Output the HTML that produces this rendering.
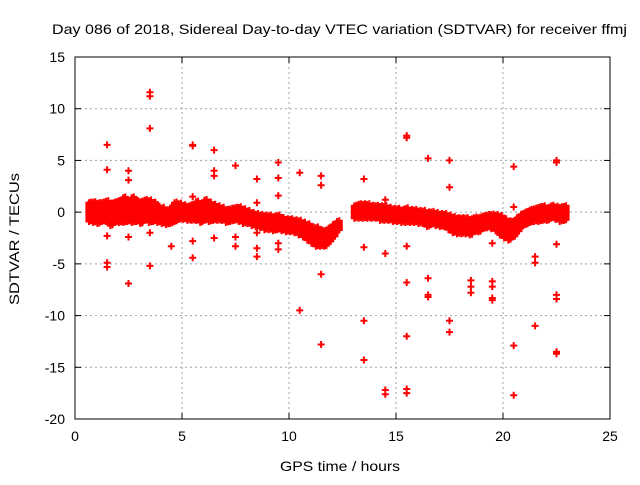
<!DOCTYPE html>
<html><head><meta charset="utf-8"><style>
body{margin:0;background:#fff}
text{font-family:"Liberation Sans",sans-serif;font-size:14px;fill:#000}
</style></head><body>
<svg id="chart" width="640" height="480" xmlns="http://www.w3.org/2000/svg">
<text x="52" y="34" textLength="575" lengthAdjust="spacingAndGlyphs">Day 086 of 2018, Sidereal Day-to-day VTEC variation (SDTVAR) for receiver ffmj</text>
<g id="grid"></g>
<g id="axes"></g>
<g id="marks"></g>
<text x="280" y="471" textLength="120" lengthAdjust="spacingAndGlyphs">GPS time / hours</text>
<text transform="translate(19,305) rotate(-90)" textLength="132" lengthAdjust="spacingAndGlyphs">SDTVAR / TECUs</text>
</svg>
<script>
const xTicks=[0,5,10,15,20,25];
const yTicks=[15,10,5,0,-5,-10,-15,-20];
// dense band: time, mid value, half-spread
const bandT=[0.7,0.9,1.1,1.3,1.5,1.7,1.9,2.1,2.3,2.5,2.7,2.9,3.1,3.3,3.5,3.7,3.9,4.1,4.3,4.5,4.7,4.9,5.1,5.3,5.5,5.7,5.9,6.1,6.3,6.5,6.7,6.9,7.1,7.3,7.5,7.7,7.9,8.1,8.3,8.5,8.7,8.9,9.1,9.3,9.5,9.7,9.9,10.1,10.3,10.5,10.7,10.9,11.1,11.3,11.5,11.7,11.9,12.1,12.3,13.1,13.3,13.5,13.7,13.9,14.1,14.3,14.5,14.7,14.9,15.1,15.3,15.5,15.7,15.9,16.1,16.3,16.5,16.7,16.9,17.1,17.3,17.5,17.7,17.9,18.1,18.3,18.5,18.7,18.9,19.1,19.3,19.5,19.7,19.9,20.1,20.3,20.5,20.7,20.9,21.1,21.3,21.5,21.7,21.9,22.1,22.3,22.5,22.7,22.9];
const bandMid=[0,0,-0.1,0,0.1,-0.2,0,0.1,0.2,0.1,0.2,0.1,0,0.2,0.1,0,-0.2,-0.3,-0.5,-0.3,0,0.1,0,-0.1,0,0.1,-0.2,0.2,0,0,-0.1,-0.2,-0.4,-0.3,-0.2,-0.2,-0.4,-0.5,-0.7,-0.8,-0.9,-1,-1,-1.1,-1,-1.2,-1.3,-1.3,-1.4,-1.5,-1.7,-1.9,-2.2,-2.4,-2.5,-2.5,-2.2,-1.8,-1.3,0,0.1,0.1,0.1,0,0,-0.1,-0.1,-0.2,-0.3,-0.3,-0.4,-0.3,-0.4,-0.4,-0.5,-0.5,-0.7,-0.6,-0.7,-0.8,-0.8,-1,-1.2,-1.3,-1.3,-1.3,-1.4,-1.2,-1.2,-1,-0.9,-0.9,-1,-1.3,-1.6,-1.8,-1.6,-1.2,-0.8,-0.6,-0.4,-0.3,-0.2,-0.1,-0.2,0,-0.1,-0.2,-0.1,-0.3,-0.2];
const bandSpread=[0.9,1,1,0.9,1,1.1,1,1.1,1.2,1,1.2,1,1.1,1,1.1,0.9,0.8,0.8,0.7,0.8,0.9,0.8,0.7,0.7,0.8,0.9,0.8,1,0.9,0.8,0.7,0.6,0.6,0.6,0.6,0.7,0.7,0.6,0.6,0.6,0.6,0.7,0.7,0.7,0.7,0.6,0.6,0.6,0.6,0.7,0.7,0.8,0.8,0.9,0.8,0.8,0.7,0.6,0.5,0.6,0.7,0.7,0.7,0.6,0.6,0.7,0.7,0.6,0.6,0.6,0.6,0.7,0.6,0.6,0.6,0.6,0.7,0.6,0.6,0.6,0.6,0.7,0.8,0.8,0.8,0.8,0.8,0.7,0.7,0.6,0.6,0.7,0.8,0.9,0.9,0.9,0.8,0.7,0.6,0.6,0.6,0.6,0.7,0.7,0.6,0.6,0.6,0.7,0.7,0.7];
const outT=[1.5,1.5,1.5,1.5,1.5,2.5,2.5,2.5,2.5,3.5,3.5,3.5,3.5,3.5,4.5,5.5,5.5,5.5,5.5,5.5,6.5,6.5,6.5,6.5,7.5,7.5,7.5,8.5,8.5,8.5,8.5,8.5,9.5,9.5,9.5,9.5,9.5,10.5,10.5,11.5,11.5,11.5,11.5,13.5,13.5,13.5,13.5,14.5,14.5,14.5,14.5,15.5,15.5,15.5,15.5,15.5,15.5,15.5,16.5,16.5,16.5,16.5,17.5,17.5,17.5,17.5,18.5,18.5,18.5,19.5,19.5,19.5,19.5,19.5,20.5,20.5,20.5,20.5,21.5,21.5,21.5,22.5,22.5,22.5,22.5,22.5,22.5,22.5];
const outV=[6.5,4.1,-2.3,-4.9,-5.3,4,3.1,-2.4,-6.9,11.6,11.2,8.1,-2,-5.2,-3.3,6.5,6.4,1.5,-2.8,-4.4,6,4,3.5,-2.5,4.5,-2.4,-3.3,3.2,-3.5,-4.3,0.9,-2,4.8,3.3,1.6,-3,-3.6,3.8,-9.5,3.5,2.6,-6,-12.8,3.2,-3.4,-10.5,-14.3,1.2,-4,-17.2,-17.6,7.4,7.2,-3.3,-6.8,-12,-17.1,-17.5,5.2,-6.4,-8,-8.2,5,2.4,-10.5,-11.6,-6.6,-7.2,-7.8,-6.7,-7.2,-8.3,-8.5,-3,4.4,-12.9,-17.7,0.5,-4.3,-4.9,-11,5,4.8,-3.1,-8,-8.4,-13.5,-13.7];
const X0=75,X1=610,Y0=57,Y1=419;
const sx=t=>X0+(t-0)/25*(X1-X0);
const sy=v=>Y0+(15-v)/35*(Y1-Y0);
const NS="http://www.w3.org/2000/svg";
function mk(tag,attrs,parent){const e=document.createElementNS(NS,tag);for(const k in attrs)e.setAttribute(k,attrs[k]);parent.appendChild(e);return e;}
const grid=document.getElementById('grid'),axes=document.getElementById('axes'),marks=document.getElementById('marks');
xTicks.forEach(t=>{const x=sx(t);
 if(t>0&&t<25){const l=mk('line',{x1:x,y1:Y0,x2:x,y2:Y1,stroke:'#a0a0a0','stroke-dasharray':'2,3','stroke-width':1},grid);}
 mk('line',{x1:x,y1:Y1,x2:x,y2:Y1-6,stroke:'#000'},axes);mk('line',{x1:x,y1:Y0,x2:x,y2:Y0+6,stroke:'#000'},axes);
 const tx=mk('text',{x:x,y:Y1+22,'text-anchor':'middle'},axes);tx.textContent=t;
 });
yTicks.forEach(v=>{const y=sy(v);
 if(v<15&&v>-20){const l=mk('line',{x1:X0,y1:y,x2:X1,y2:y,stroke:'#a0a0a0','stroke-dasharray':'2,3','stroke-width':1},grid);}
 mk('line',{x1:X0,y1:y,x2:X0+6,y2:y,stroke:'#000'},axes);mk('line',{x1:X1,y1:y,x2:X1-6,y2:y,stroke:'#000'},axes);
 const tx=mk('text',{x:X0-10,y:y+5,'text-anchor':'end'},axes);tx.textContent=v;
 });
const fr=mk('rect',{x:X0,y:Y0,width:X1-X0,height:Y1-Y0,fill:'none',stroke:'#000'},axes);

let d='';
function plus(t,v){const x=sx(t),y=sy(v);d+=`M${(x-3.5).toFixed(1)} ${y.toFixed(1)}h7M${x.toFixed(1)} ${(y-3.5).toFixed(1)}v7`;}
bandT.forEach((t,i)=>{const m=bandMid[i],s=bandSpread[i];
 for(let v=m-s;v<=m+s+1e-6;v+=0.15){plus(t-0.05,v);plus(t+0.05,v+0.07);}});
const band=mk('path',{d:d,stroke:'#ff0000','stroke-width':2,fill:'none'},marks);

d='';outT.forEach((t,i)=>plus(t,outV[i]));
const out=mk('path',{d:d,stroke:'#ff0000','stroke-width':2,fill:'none'},marks);

</script>
</body></html>
